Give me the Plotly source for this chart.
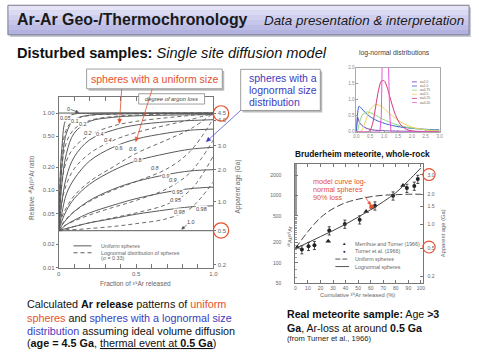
import math
import plotly.graph_objects as go

W, H = 479, 359
FONT = "Liberation Sans, Arial, sans-serif"
RED = "#e5512d"
BLUE = "#3c3cc0"

# ---------------- main chart data ----------------
frac = [0, 0.02, 0.05, 0.1, 0.2, 0.35, 0.5, 0.7, 0.85, 1.0]
loss_0 = [1.0, 1.0]
loss_100 = [0.03, 0.03]
frac_ends = [0, 1.0]
u_005 = [0.03, 0.35, 0.85, 0.97, 0.99, 1.0, 1.0, 1.0, 1.0, 1.0]
u_01 = [0.03, 0.2, 0.55, 0.82, 0.94, 0.97, 0.98, 0.99, 0.99, 0.99]
u_02 = [0.03, 0.12, 0.3, 0.55, 0.78, 0.88, 0.92, 0.94, 0.95, 0.95]
u_04 = [0.03, 0.07, 0.15, 0.27, 0.45, 0.6, 0.7, 0.77, 0.8, 0.82]
u_06 = [0.03, 0.05, 0.09, 0.14, 0.24, 0.36, 0.46, 0.55, 0.6, 0.62]
u_08 = [0.03, 0.04, 0.055, 0.078, 0.12, 0.18, 0.24, 0.3, 0.34, 0.36]
u_09 = [0.03, 0.035, 0.042, 0.053, 0.074, 0.103, 0.13, 0.16, 0.178, 0.185]
u_095 = [0.03, 0.032, 0.036, 0.041, 0.051, 0.064, 0.078, 0.095, 0.105, 0.11]
u_098 = [0.03, 0.031, 0.032, 0.034, 0.038, 0.043, 0.049, 0.056, 0.061, 0.063]

d_005 = [0.03, 0.3, 0.62, 0.82, 0.93, 0.97, 0.99, 1.0, 1.0, 1.0]
d_01 = [0.03, 0.2, 0.42, 0.62, 0.8, 0.9, 0.94, 0.97, 0.99, 1.0]
d_02 = [0.03, 0.12, 0.24, 0.36, 0.52, 0.68, 0.78, 0.87, 0.93, 1.0]
d_04 = [0.03, 0.07, 0.12, 0.19, 0.3, 0.44, 0.56, 0.7, 0.82, 1.0]
d_06 = [0.03, 0.045, 0.06, 0.085, 0.13, 0.2, 0.3, 0.45, 0.62, 1.0]
d_08 = [0.03, 0.036, 0.043, 0.053, 0.072, 0.1, 0.13, 0.19, 0.32, 0.85]
d_09 = [0.03, 0.033, 0.036, 0.04, 0.048, 0.06, 0.074, 0.105, 0.17, 0.45]
d_095 = [0.03, 0.031, 0.032, 0.034, 0.038, 0.044, 0.051, 0.066, 0.1, 0.28]
d_098 = [0.03, 0.03, 0.031, 0.031, 0.032, 0.034, 0.037, 0.043, 0.058, 0.13]

ratio_ticks = [0.01, 0.02, 0.05, 0.1, 0.2, 0.5, 1.0]
ratio_labels = ["0.01", "0.02", "0.05", "0.10", "0.20", "0.50", "1.00"]
age_tick_pos = [1.0, 0.81, 0.379, 0.185, 0.071, 0.03, 0.0108]
age_tick_labels = ["4.5", "4.0", "3.0", "2.0", "1.0", "0.5", "0.2"]

# ---------------- log-normal inset data ----------------
ln_x = [0, 0.05, 0.1, 0.2, 0.3, 0.4, 0.5, 0.6, 0.7, 0.8, 0.9, 1.0, 1.1, 1.2, 1.4, 1.6, 1.8, 2.0, 2.5, 3.0]
ln_blue = [0, 0.6, 0.8, 0.72, 0.62, 0.54, 0.47, 0.42, 0.37, 0.33, 0.3, 0.27, 0.24, 0.22, 0.18, 0.15, 0.13, 0.11, 0.08, 0.06]
ln_purple = [0, 0.45, 0.32, 0.2, 0.14, 0.1, 0.08, 0.06, 0.05, 0.045, 0.04, 0.035, 0.03, 0.028, 0.024, 0.02, 0.018, 0.016, 0.012, 0.01]
ln_green = [0, 0.05, 0.25, 0.5, 0.6, 0.62, 0.6, 0.56, 0.52, 0.47, 0.42, 0.38, 0.34, 0.3, 0.24, 0.19, 0.15, 0.12, 0.07, 0.04]
ln_yellow = [0, 0, 0, 0.05, 0.25, 0.5, 0.7, 0.8, 0.85, 0.84, 0.8, 0.73, 0.65, 0.57, 0.43, 0.31, 0.22, 0.15, 0.06, 0.02]
ln_red = [0, 0, 0, 0, 0, 0, 0.05, 0.3, 0.8, 1.3, 1.58, 1.6, 1.42, 1.12, 0.55, 0.22, 0.08, 0.03, 0, 0]
pink_x = [0, 0.85, 0.9, 0.95, 1.0, 1.05, 1.1, 1.15, 1.2, 1.25, 3.0]
ln_pink = [0, 0, 0.5, 3, 8, 8, 5, 2.5, 0.6, 0, 0]
ln_names = ["σ=2.0", "σ=1.0", "σ=0.75", "σ=0.5", "σ=0.25", "σ=0.05"]
ln_colors = ["#6a3fa8", "#3d5bd0", "#7fdc7f", "#f2cf5a", "#d43a78", "#e45ad6"]
ln_xticks = [0, 0.5, 1, 1.5, 2, 2.5, 3]
ln_yticks = [0, 0.5, 1, 1.5, 2]

# ---------------- Bruderheim data ----------------
turner_x = [5.2, 10.5, 15.2, 27, 39.4, 51.2, 63.4, 77.8, 88.8, 94.7, 97.5]
turner_y = [158, 177, 183, 302, 380, 440, 710, 1000, 1300, 1400, 1770]
merrihue_x = [1.6, 26.2, 56.4, 85.7]
merrihue_y = [171, 209, 584, 1420]
model_x = [0, 10, 20, 30, 40, 50, 60, 70, 80, 90, 100]
lognormal_model = [163, 200, 246, 302, 376, 480, 619, 814, 1108, 1671, 2600]
uniform_model = [163, 292, 471, 641, 787, 887, 966, 1017, 1035, 1052, 1052]
red_point_x = [60.8]
red_point_y = [679]
bru_ticks = [50, 100, 200, 500, 1000, 2000]
bru_age_pos = [2051, 1035, 693, 371, 163, 63.5]
bru_age_labels = ["3.0", "2.0", "1.5", "1.0", "0.5", "0.2"]

S40 = "\u2074\u2070"
S39 = "\u00b3\u2079"


def X(p):
    return p / W


def Y(p):
    return 1 - p / H


fig = go.Figure()
LC = "#5a5a5a"

fig.add_trace(go.Scatter(x=frac_ends, y=loss_0, mode="lines", line=dict(color=LC, width=1), xaxis="x", yaxis="y"))
fig.add_trace(go.Scatter(x=frac_ends, y=loss_100, mode="lines", line=dict(color=LC, width=1), xaxis="x", yaxis="y2"))
for ys in [u_005, u_01, u_02, u_04, u_06, u_08, u_09, u_095, u_098]:
    fig.add_trace(go.Scatter(x=frac, y=ys, mode="lines", line=dict(color=LC, width=1, shape="spline", smoothing=1.0),
                             xaxis="x", yaxis="y"))
for ys in [d_005, d_01, d_02, d_04, d_06, d_08, d_09, d_095, d_098]:
    fig.add_trace(go.Scatter(x=frac, y=ys, mode="lines",
                             line=dict(color=LC, width=0.9, dash="4px,3px", shape="spline", smoothing=1.0),
                             xaxis="x", yaxis="y"))

# inset
for ys, c in zip([ln_purple, ln_blue, ln_green, ln_yellow, ln_red], ln_colors[:5]):
    fig.add_trace(go.Scatter(x=ln_x, y=ys, mode="lines", line=dict(color=c, width=1, shape="spline", smoothing=0.8),
                             xaxis="x3", yaxis="y3"))
fig.add_trace(go.Scatter(x=pink_x, y=ln_pink, mode="lines", line=dict(color=ln_colors[5], width=1),
                         xaxis="x3", yaxis="y3"))

# Bruderheim
fig.add_trace(go.Scatter(x=model_x, y=uniform_model, mode="lines",
                         line=dict(color="#444", width=1, dash="7px,3px", shape="spline"), xaxis="x4", yaxis="y4"))
fig.add_trace(go.Scatter(x=model_x, y=lognormal_model, mode="lines",
                         line=dict(color="#444", width=1, shape="spline"), xaxis="x4", yaxis="y5"))
fig.add_trace(go.Scatter(x=turner_x, y=turner_y, mode="markers",
                         marker=dict(symbol="circle", size=4, color="#222"),
                         error_y=dict(type="percent", value=14, thickness=0.8, width=1.5, color="#222"),
                         xaxis="x4", yaxis="y4"))
fig.add_trace(go.Scatter(x=merrihue_x, y=merrihue_y, mode="markers",
                         marker=dict(symbol="triangle-up", size=5, color="#222"),
                         xaxis="x4", yaxis="y4"))
fig.add_trace(go.Scatter(x=red_point_x, y=red_point_y, mode="markers",
                         marker=dict(symbol="circle", size=5, color=RED), xaxis="x4", yaxis="y4"))

tf = dict(family=FONT, size=6, color="#666")
axline = dict(showline=True, linecolor="#777", linewidth=1, showgrid=False, zeroline=False)
inset_tf = dict(family=FONT, size=4.5, color="#888")

layout = dict(
    width=W, height=H, margin=dict(l=0, r=0, t=0, b=0),
    paper_bgcolor="white", plot_bgcolor="rgba(0,0,0,0)", showlegend=False,
    font=dict(family=FONT),
    xaxis=dict(domain=[X(56.7), X(214)], anchor="y", range=[0, 1], tickvals=[0, 0.5, 1.0],
               ticktext=["0", "0.5", "1.0"], ticks="inside", ticklen=4, tickcolor="#777", mirror="allticks",
               minor=dict(ticks="inside", ticklen=2, dtick=0.1, tickcolor="#777"), tickfont=tf, **axline),
    yaxis=dict(domain=[Y(269.3), Y(96)], anchor="x", type="log", range=[-2, 0.2122],
               tickvals=ratio_ticks, ticktext=ratio_labels, ticks="outside", ticklen=2, tickcolor="#777",
               tickfont=tf, **axline),
    yaxis2=dict(overlaying="y", side="right", anchor="x", type="log", range=[-2, 0.2122],
                tickvals=age_tick_pos, ticktext=age_tick_labels, ticks="outside", ticklen=2, tickcolor="#777",
                tickfont=tf, **axline),
    xaxis3=dict(domain=[X(359.3), X(444)], anchor="y3", range=[0, 3],
                tickvals=ln_xticks, ticktext=["%.1f" % v for v in ln_xticks],
                ticks="inside", ticklen=1.5, tickcolor="#999", mirror=True, tickfont=inset_tf,
                showline=True, linecolor="#aaa", linewidth=0.8, showgrid=False, zeroline=False),
    yaxis3=dict(domain=[Y(131.7), Y(66.7)], anchor="x3", range=[0, 2.0],
                tickvals=ln_yticks, ticktext=["%.1f" % v for v in ln_yticks],
                ticks="inside", ticklen=1.5, tickcolor="#999", mirror=True, tickfont=inset_tf,
                showline=True, linecolor="#aaa", linewidth=0.8, showgrid=False, zeroline=False),
    xaxis4=dict(domain=[X(297.3), X(426.7)], anchor="y4", range=[0, 101.3], tickvals=list(range(0, 101, 10)),
                ticks="inside", ticklen=3, tickcolor="#777", mirror="ticks",
                tickfont=dict(family=FONT, size=5, color="#666"), **axline),
    yaxis4=dict(domain=[Y(285), Y(164)], anchor="x4", type="log", range=[1.699, 3.477],
                tickvals=bru_ticks, ticktext=[str(v) for v in bru_ticks], ticks="inside", ticklen=3,
                tickcolor="#777", ticklabelstandoff=12,
                minor=dict(ticks="inside", ticklen=1.5, tickcolor="#999"),
                tickfont=dict(family=FONT, size=5, color="#666"), **axline),
    yaxis5=dict(overlaying="y4", side="right", anchor="x4", type="log", range=[1.699, 3.477],
                tickvals=bru_age_pos, ticktext=bru_age_labels, ticks="inside", ticklen=3, tickcolor="#777",
                ticklabelstandoff=3,
                tickfont=dict(family=FONT, size=5, color="#666"), **axline),
)
fig.update_layout(**layout)

shapes = []
ann = []


def rect(x0, y0, x1, y1, **kw):
    shapes.append(dict(type="rect", xref="paper", yref="paper", x0=X(x0), x1=X(x1), y0=Y(y1), y1=Y(y0), **kw))


def line(x0, y0, x1, y1, **kw):
    shapes.append(dict(type="line", xref="paper", yref="paper", x0=X(x0), x1=X(x1), y0=Y(y0), y1=Y(y1), **kw))


def text(t, x, y, size, color="#111", xanchor="left", **kw):
    ann.append(dict(text=t, x=X(x), y=Y(y), xref="paper", yref="paper", showarrow=False, xanchor=xanchor,
                    yanchor="middle", font=dict(family=FONT, size=size, color=color), **kw))


def arrow(x0, y0, x1, y1, color, width=0.8, head=4.5):
    dx, dy = x1 - x0, y1 - y0
    L = math.hypot(dx, dy)
    ux, uy = dx / L, dy / L
    nx, ny = -uy, ux
    bx, by = x1 - ux * head, y1 - uy * head
    line(x0, y0, bx, by, line=dict(color=color, width=width))
    hw = head * 0.45
    pts = [(x1, y1), (bx + nx * hw, by + ny * hw), (bx - nx * hw, by - ny * hw)]
    path = "M " + " L ".join("%.5f,%.5f" % (X(a), Y(b)) for a, b in pts) + " Z"
    shapes.append(dict(type="path", xref="paper", yref="paper", path=path, fillcolor=color,
                       line=dict(color=color, width=0.5)))


# header
rect(7, 5.5, 476, 35.5, fillcolor="#c9c9d6", line=dict(width=0), layer="below")
bands = ["#e4e4f6", "#dadaf2", "#d0d0ee", "#c6c6ea", "#bcbce5", "#b2b2e0"]
for i, c in enumerate(bands):
    rect(5, 3.3 + i * 5, 474, 3.3 + (i + 1) * 5, fillcolor=c, line=dict(width=0), layer="below")
rect(5, 3.3, 474, 33.3, fillcolor="rgba(0,0,0,0)", line=dict(color="#7a7a8a", width=1), layer="below")
text("<b>Ar-Ar Geo-/Thermochronology</b>", 12, 18, 15.9, "#1a1a1a")
text("<i>Data presentation &amp; interpretation</i>", 471, 18.5, 13.4, "#1a1a1a", xanchor="right")
text("<b>Disturbed samples:</b> <i>Single site diffusion model</i>", 12, 52, 14.6, "#111")

# main chart titles
text("Relative " + S40 + "Ar/" + S39 + "Ar ratio", 29, 188, 6.5, "#666", xanchor="center", textangle=-90)
text("Apparent age (Ga)", 239, 187, 6.5, "#666", xanchor="center", textangle=-90)
text("Fraction of " + S39 + "Ar released", 135, 285.5, 6.5, "#666", xanchor="center")

# main chart in-plot legend
line(71.7, 247.3, 90, 247.3, line=dict(color=LC, width=1))
line(71.7, 254.3, 90, 254.3, line=dict(color=LC, width=1, dash="4px,3px"))
text("Uniform spheres", 98, 247.3, 5.3, "#666")
text("Lognormal distribution of spheres", 98, 254.3, 5.3, "#666")
text("(σ = 0.33)", 98, 260, 5.3, "#666")

# curve labels
solid_labels = [("0.05", 63.5, 117.5), ("0.1", 73, 120.5), ("0.2", 81.7, 123.3), ("0.4", 98.3, 134),
                ("0.6", 118.3, 148.3), ("0.8", 137.3, 160.7), ("0.9", 165.7, 176), ("0.95", 177.7, 192.3),
                ("0.98", 201.7, 210), ("1.0", 191, 223)]
dashed_labels = [("0.2", 86.7, 132.7), ("0.4", 106.7, 140), ("0.6", 132.7, 149.3), ("0.8", 155, 168.3),
                 ("0.9", 173.3, 180.7), ("0.95", 175.7, 200.7), ("0.98", 180, 213.3)]
for t, x, y in solid_labels:
    text(t, x, y, 5.5, "#444", xanchor="center", bgcolor="white", borderpad=0)
for t, x, y in dashed_labels:
    text("<i>" + t + "</i>", x, y, 5.5, "#444", xanchor="center", bgcolor="white", borderpad=0)
text("0", 66.5, 108.3, 5.5, "#444", xanchor="center")
arrow(69, 109, 77, 112, "#444", 0.7, 3)
arrow(188, 225, 181.7, 230.5, "#444", 0.7, 3)

# "degree of argon loss" box
rect(138, 93, 205, 103.5, fillcolor="white", line=dict(color="#888", width=0.8))
text("<i>degree of argon loss</i>", 171.5, 98.3, 5.8, "#444", xanchor="center")

# red callout
rect(87, 70, 225, 90, fillcolor="#bbbbbb", line=dict(width=0))
rect(85, 68, 223, 88, fillcolor="white", line=dict(color="#888", width=0.8))
text("spheres with a uniform size", 154, 78, 10.5, RED, xanchor="center")
arrow(120.7, 88.5, 118.3, 123.3, RED, 0.8)
arrow(151.7, 88.5, 135, 141.7, RED, 0.8)

# blue callout
rect(243.7, 70.3, 324.7, 112, fillcolor="#bbbbbb", line=dict(width=0))
rect(241.7, 68.3, 322.7, 110, fillcolor="white", line=dict(color="#888", width=0.8))
text("spheres with a", 248, 77.3, 10.5, BLUE)
text("lognormal size", 248, 89.3, 10.5, BLUE)
text("distribution", 248, 101.5, 10.5, BLUE)
arrow(241.7, 110, 206.7, 141.7, BLUE, 0.7)

# circles main
for cy in [113, 231.7]:
    shapes.append(dict(type="circle", xref="paper", yref="paper", x0=X(214), x1=X(229.5), y0=Y(cy + 7.8),
                       y1=Y(cy - 7.8), line=dict(color=RED, width=1.2)))

# inset texts
text("log-normal distributions", 398, 52, 6.8, "#444", xanchor="center")
for i, (nm, c) in enumerate(zip(ln_names, ln_colors)):
    yy = 81 + i * 4.2
    line(416, yy, 421, yy, line=dict(color=c, width=0.8))
    text(nm, 422, yy, 3.2, "#666")

# Bruderheim
text("<b>Bruderheim meteorite, whole-rock</b>", 366, 154.3, 8.3, "#111", xanchor="center")
text(S40 + "Ar/" + S39 + "Ar", 291.5, 238, 5.5, "#666", xanchor="center", textangle=-90)
text("Apparent age (Ga)", 447, 235, 5.8, "#666", xanchor="center", textangle=-90)
text("Cumulative " + S39 + "Ar released (%)", 361, 297.5, 5.8, "#666", xanchor="center")
for cy in [175, 248.5]:
    shapes.append(dict(type="circle", xref="paper", yref="paper", x0=X(427), x1=X(439.5), y0=Y(cy + 6),
                       y1=Y(cy - 6), line=dict(color=RED, width=1.1)))
text("▲", 347.3, 245, 4.5, "#222", xanchor="center")
text("●", 347.3, 252.7, 4.5, "#222", xanchor="center")
line(338, 260.7, 352, 260.7, line=dict(color="#444", width=0.9, dash="5px,2px"))
line(338, 268.3, 352, 268.3, line=dict(color="#444", width=0.9))
text("Merrihue and Turner (1966)", 356, 245, 5.3, "#666")
text("Turner et al. (1966)", 356, 252.7, 5.3, "#666")
text("Uniform spheres", 356, 260.7, 5.3, "#666")
text("Lognormal spheres", 356, 268.3, 5.3, "#666")
text("model curve log-", 313, 181.7, 7.2, RED)
text("normal spheres", 313, 189.9, 7.2, RED)
text("90% loss", 313, 198.1, 7.2, RED)
arrow(368, 197, 374, 206, RED, 0.8, 3.5)

# bottom text
R = "<span style='color:%s'>" % RED
B = "<span style='color:%s'>" % BLUE
text("Calculated <b>Ar release</b> patterns of " + R + "uniform</span>", 22.5, 306.7, 10.8)
text(R + "spheres</span> and " + B + "spheres with a lognormal size</span>", 22.5, 320, 10.8)
text(B + "distribution</span> assuming ideal volume diffusion", 22.5, 333.3, 10.8)
text("(<b>age = 4.5 Ga</b>, <u>thermal event at <b>0.5 Ga</b></u>)", 22.5, 346, 10.8)

text("<b>Real meteorite sample:</b> Age <b>&gt;3</b>", 286.5, 316.7, 10.6)
text("<b>Ga</b>, Ar-loss at around <b>0.5 Ga</b>", 286.5, 330.7, 10.6)
text("(from Turner et al., 1966)", 286.5, 341.5, 7.6, "#222")

fig.update_layout(shapes=shapes, annotations=ann)
fig.write_html("out.html", config={"displayModeBar": False},
               post_script="document.body.style.margin='0';document.body.style.padding='0';")
